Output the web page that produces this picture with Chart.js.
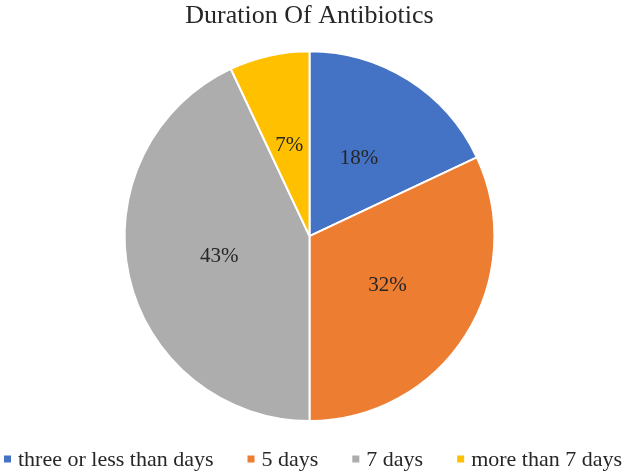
<!DOCTYPE html>
<html>
<head>
	<title>Duration Of Antibiotics</title>
	<style>
		body { margin: 0; background: #fff; }
		.chart { width: 625px; height: 474px; }
	</style>
</head>
<body>
	<div class="chart">
	<canvas id="chart1"></canvas>
	</div>

	<script src="https://cdn.jsdelivr.net/npm/chart.js@4.4.0/dist/chart.umd.min.js"></script>
	<script>
		var categories = ["three or less than days", "5 days", "7 days", "more than 7 days"];
		var percents = [18, 32, 43, 7];
		var colours = ["#4472C4", "#ED7D31", "#ADADAD", "#FFC000"];

		var serif = "'Liberation Serif', 'Times New Roman', serif";

		// writes the percentage in the middle of each slice
		var sliceLabels = {
			id: "sliceLabels",
			afterDatasetsDraw: function (chart) {
				var ctx = chart.ctx;
				var meta = chart.getDatasetMeta(0);
				ctx.save();
				ctx.font = "21px " + serif;
				ctx.fillStyle = "#262626";
				ctx.textAlign = "center";
				ctx.textBaseline = "middle";
				meta.data.forEach(function (arc, i) {
					var p = arc.tooltipPosition();
					ctx.fillText(percents[i] + "%", p.x, p.y);
				});
				ctx.restore();
			}
		};

		// legend row along the bottom, small squares like the original
		var bottomLegend = {
			id: "bottomLegend",
			afterDraw: function (chart) {
				var ctx = chart.ctx;
				var x = 4;
				var y = 459;
				ctx.save();
				ctx.font = "22px " + serif;
				ctx.textBaseline = "middle";
				ctx.textAlign = "left";
				categories.forEach(function (name, i) {
					ctx.fillStyle = colours[i];
					ctx.fillRect(x, y - 3.5, 7, 7);
					ctx.fillStyle = "#262626";
					ctx.fillText(name, x + 14, y + 1);
					x += 14 + ctx.measureText(name).width + 34;
				});
				ctx.restore();
			}
		};

		var ctx = document.getElementById("chart1").getContext("2d");
		var chart = new Chart(ctx, {
			type: "pie",
			data: {
				labels: categories,
				datasets: [{
					data: percents,
					backgroundColor: colours,
					borderColor: "#ffffff",
					borderWidth: 2
				}]
			},
			options: {
				responsive: true,
				maintainAspectRatio: false,
				animation: false,
				layout: { padding: { top: 0, bottom: 52, left: 0, right: 6 } },
				plugins: {
					tooltip: { enabled: false },
					legend: { display: false },
					title: {
						display: true,
						text: "Duration Of Antibiotics",
						color: "#262626",
						font: { family: serif, size: 26, weight: "normal" },
						padding: { top: 1, bottom: 18 }
					}
				}
			},
			plugins: [sliceLabels, bottomLegend]
		});
	</script>
</body>
</html>
